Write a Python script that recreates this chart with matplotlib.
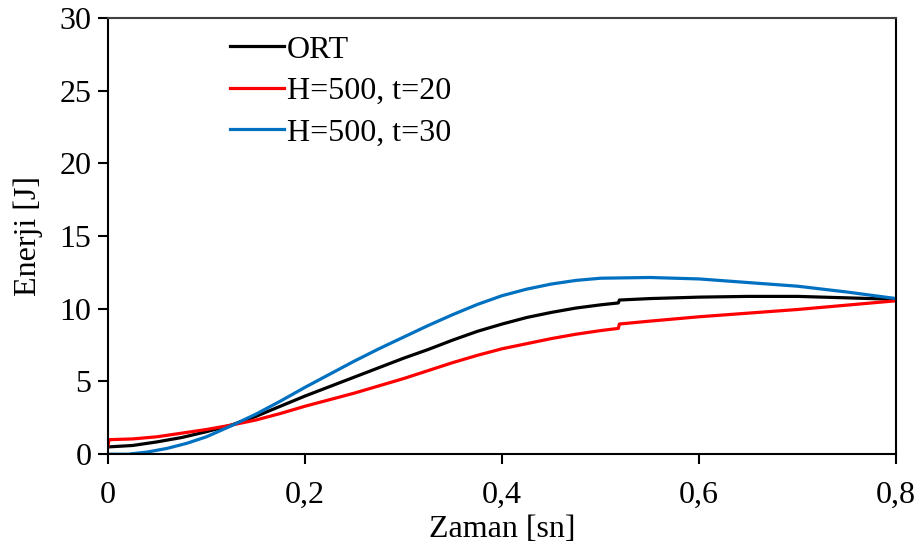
import numpy as np
import matplotlib
matplotlib.use('Agg')
import matplotlib.pyplot as plt

### values (zaman [sn] -> enerji [J])
ort_t = [0, 0.025, 0.05, 0.075, 0.1, 0.125, 0.15, 0.175, 0.2, 0.225, 0.25, 0.275, 0.3,
         0.325, 0.35, 0.375, 0.4, 0.425, 0.45, 0.475, 0.5, 0.518, 0.519, 0.55, 0.6, 0.65,
         0.7, 0.75, 0.8]
ort_e = [0.5, 0.6, 0.85, 1.15, 1.55, 2.0, 2.6, 3.3, 4.0, 4.65, 5.3, 5.95, 6.6,
         7.2, 7.85, 8.45, 8.95, 9.4, 9.75, 10.05, 10.27, 10.4, 10.6, 10.7, 10.8, 10.85,
         10.85, 10.75, 10.65]

h20_t = [0, 0.001, 0.025, 0.05, 0.075, 0.1, 0.125, 0.15, 0.175, 0.2, 0.225, 0.25, 0.275, 0.3,
         0.325, 0.35, 0.375, 0.4, 0.425, 0.45, 0.475, 0.5, 0.518, 0.519, 0.55, 0.6, 0.65,
         0.7, 0.75, 0.8]
h20_e = [0.55, 1.0, 1.05, 1.2, 1.45, 1.7, 2.0, 2.35, 2.8, 3.3, 3.75, 4.2, 4.7, 5.2,
         5.75, 6.3, 6.8, 7.25, 7.6, 7.95, 8.25, 8.5, 8.65, 8.95, 9.15, 9.45, 9.7,
         9.95, 10.25, 10.55]

h30_t = [0, 0.02, 0.04, 0.06, 0.08, 0.1, 0.125, 0.15, 0.175, 0.2, 0.225, 0.25, 0.275, 0.3,
         0.325, 0.35, 0.375, 0.4, 0.425, 0.45, 0.475, 0.5, 0.55, 0.6, 0.65, 0.7, 0.75, 0.8]
h30_e = [0.0, 0.0, 0.15, 0.4, 0.75, 1.2, 1.95, 2.75, 3.65, 4.6, 5.5, 6.4, 7.25, 8.05,
         8.85, 9.6, 10.3, 10.9, 11.35, 11.7, 11.95, 12.1, 12.15, 12.05, 11.8, 11.55, 11.15, 10.7]

labels = ['ORT', 'H=500, t=20', 'H=500, t=30']
x_ticks = [0, 0.2, 0.4, 0.6, 0.8]
y_ticks = [0, 5, 10, 15, 20, 25, 30]

plt.rcParams['font.family'] = ['Liberation Serif', 'DejaVu Serif']
plt.rcParams['font.size'] = 23

fig, ax = plt.subplots(figsize=(9.23, 5.58), dpi=100)
fig.subplots_adjust(left=0.117, right=0.971, bottom=0.186, top=0.968)

ax.plot(ort_t, ort_e, color='black', lw=2.3, label=labels[0])
ax.plot(h20_t, h20_e, color='#ff0000', lw=2.3, label=labels[1])
ax.plot(h30_t, h30_e, color='#0070c0', lw=2.3, label=labels[2])

ax.set_xlim(0, 0.8)
ax.set_ylim(0, 30)
ax.set_xticks(x_ticks)
ax.set_xticklabels([('%g' % v).replace('.', ',') for v in x_ticks])
ax.set_yticks(y_ticks)
ax.tick_params(direction='out', length=7, width=1.5, pad=5)
ax.tick_params(axis='x', pad=12)
for s in ax.spines.values():
    s.set_linewidth(1.5)
ax.spines['top'].set_color('#404040')

ax.set_xlabel('Zaman [sn]', labelpad=4)
ax.set_ylabel('Enerji [J]', labelpad=12)

ax.legend(loc='upper left', bbox_to_anchor=(0.13, 1.004), frameon=False,
          handlelength=1.7, handletextpad=0.1, labelspacing=0.38, borderaxespad=0.2)

fig.savefig('out.png')
